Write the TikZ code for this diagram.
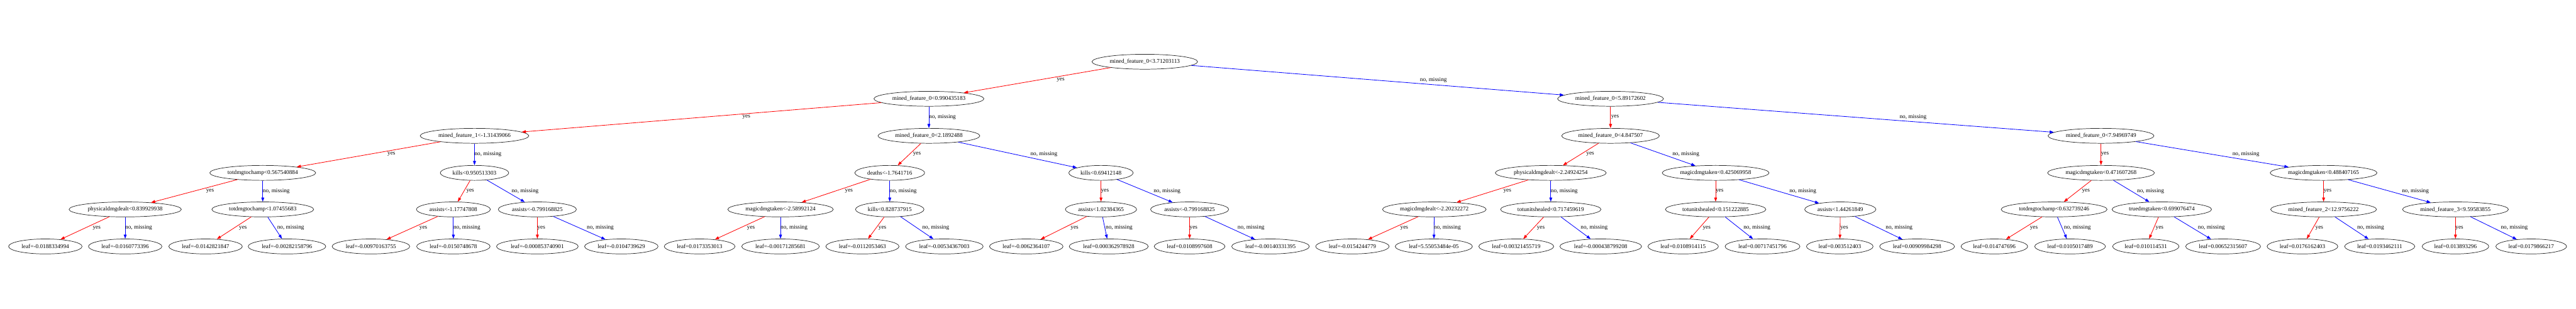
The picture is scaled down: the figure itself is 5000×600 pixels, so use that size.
\documentclass[tikz,border=0pt]{standalone}
\usepackage{fontspec}
\setmainfont{Liberation Serif}
\usetikzlibrary{shapes.geometric,arrows.meta}
\tikzset{
  tn/.style={ellipse, draw=black!85, line width=1.1pt, inner xsep=5.5pt, inner ysep=0pt, minimum height=36pt, font=\fontsize{14}{16}\selectfont},
  yesE/.style={draw=red, line width=1.25pt, -{Triangle[length=10pt,width=7pt,fill=red]}},
  noE/.style={draw=blue, line width=1.25pt, -{Triangle[length=10pt,width=7pt,fill=blue]}},
  lbl/.style={font=\fontsize{14}{16}\selectfont, inner sep=0pt, anchor=west},
}
\begin{document}
\begin{tikzpicture}[x=1.24pt,y=-1.24pt]
\useasboundingbox[fill=white] (0,0) rectangle (5000,600);
% level 0-2
\node[tn] (r) at (2222,120) {mined\_feature\_0<3.71203113};
\node[tn] (a) at (1803,192) {mined\_feature\_0<0.990435183};
\node[tn] (b) at (3126,192) {mined\_feature\_0<5.89172602};
\node[tn] (a1) at (921,264) {mined\_feature\_1<-1.31439066};
\node[tn] (a2) at (1803,264) {mined\_feature\_0<2.1892488};
\node[tn] (b1) at (3126,264) {mined\_feature\_0<4.847507};
\node[tn] (b2) at (4078,264) {mined\_feature\_0<7.94969749};
% level 3
\node[tn] (c1) at (510,336) {totdmgtochamp<0.567540884};
\node[tn] (c2) at (921,336) {kills<0.950513303};
\node[tn] (c3) at (1727,336) {deaths<-1.7641716};
\node[tn] (c4) at (2137,336) {kills<0.69412148};
\node[tn] (c5) at (3010,336) {physicaldmgdealt<-2.24924254};
\node[tn] (c6) at (3330,336) {magicdmgtaken<0.425069958};
\node[tn] (c7) at (4078,336) {magicdmgtaken<0.471607268};
\node[tn] (c8) at (4510,336) {magicdmgtaken<0.488407165};
% level 4
\node[tn] (d1) at (243,407) {physicaldmgdealt<0.839929938};
\node[tn] (d2) at (510,407) {totdmgtochamp<1.07455683};
\node[tn] (d3) at (880,407) {assists<-1.17747808};
\node[tn] (d4) at (1043,407) {assists<-0.799168825};
\node[tn] (d5) at (1515,407) {magicdmgtaken<-2.58992124};
\node[tn] (d6) at (1727,407) {kills<0.828737915};
\node[tn] (d7) at (2137,407) {assists<1.02384365};
\node[tn] (d8) at (2309,407) {assists<-0.799168825};
\node[tn] (d9) at (2784,407) {magicdmgdealt<-2.20232272};
\node[tn] (d10) at (3010,407) {totunitshealed<0.717459619};
\node[tn] (d11) at (3330,407) {totunitshealed<0.151222885};
\node[tn] (d12) at (3572,407) {assists<1.44261849};
\node[tn] (d13) at (3987,407) {totdmgtochamp<0.632739246};
\node[tn] (d14) at (4196,407) {truedmgtaken<0.699076474};
\node[tn] (d15) at (4510,407) {mined\_feature\_2<12.9756222};
\node[tn] (d16) at (4766,407) {mined\_feature\_3<9.59583855};
% leaves
\node[tn] (l1) at (88,479) {leaf=-0.0188334994};
\node[tn] (l2) at (243,479) {leaf=-0.0160773396};
\node[tn] (l3) at (399,479) {leaf=-0.0142821847};
\node[tn] (l4) at (557,479) {leaf=-0.00282158796};
\node[tn] (l5) at (720,479) {leaf=-0.00970163755};
\node[tn] (l6) at (880,479) {leaf=-0.0150748678};
\node[tn] (l7) at (1043,479) {leaf=-0.000853740901};
\node[tn] (l8) at (1206,479) {leaf=-0.0104739629};
\node[tn] (l9) at (1358,479) {leaf=0.0173353013};
\node[tn] (l10) at (1515,479) {leaf=-0.00171285681};
\node[tn] (l11) at (1674,479) {leaf=-0.0112053463};
\node[tn] (l12) at (1833,479) {leaf=-0.00534367003};
\node[tn] (l13) at (1992,479) {leaf=-0.0062364107};
\node[tn] (l14) at (2152,479) {leaf=0.000362978928};
\node[tn] (l15) at (2309,479) {leaf=0.0108997608};
\node[tn] (l16) at (2466,479) {leaf=-0.00140331395};
\node[tn] (l17) at (2625,479) {leaf=-0.0154244779};
\node[tn] (l18) at (2783,479) {leaf=5.55053484e-05};
\node[tn] (l19) at (2943,479) {leaf=0.00321455719};
\node[tn] (l20) at (3107,479) {leaf=-0.000438799208};
\node[tn] (l21) at (3267,479) {leaf=0.0108914115};
\node[tn] (l22) at (3421,479) {leaf=0.00717451796};
\node[tn] (l23) at (3571,479) {leaf=0.003512403};
\node[tn] (l24) at (3721,479) {leaf=0.00909984298};
\node[tn] (l25) at (3871,479) {leaf=0.014747696};
\node[tn] (l26) at (4018,479) {leaf=0.0105017489};
\node[tn] (l27) at (4165,479) {leaf=0.010114531};
\node[tn] (l28) at (4315,479) {leaf=0.00652315607};
\node[tn] (l29) at (4469,479) {leaf=0.0176162403};
\node[tn] (l30) at (4619,479) {leaf=0.0193462111};
\node[tn] (l31) at (4766,479) {leaf=0.013893296};
\node[tn] (l32) at (4913,479) {leaf=0.0179866217};
% edges upper
\draw[yesE] (r) -- (a);  \node[lbl] at (2051,156) {yes};
\draw[noE]  (r) -- (b);  \node[lbl] at (2756,156) {no, missing};
\draw[yesE] (a) -- (a1); \node[lbl] at (1441,228) {yes};
\draw[noE]  (a) -- (a2); \node[lbl] at (1803,228) {no, missing};
\draw[yesE] (b) -- (b1); \node[lbl] at (3127,228) {yes};
\draw[noE]  (b) -- (b2); \node[lbl] at (3687,228) {no, missing};
\draw[yesE] (a1) -- (c1); \node[lbl] at (752,300) {yes};
\draw[noE]  (a1) -- (c2); \node[lbl] at (921,300) {no, missing};
\draw[yesE] (a2) -- (c3); \node[lbl] at (1772,300) {yes};
\draw[noE]  (a2) -- (c4); \node[lbl] at (2000,300) {no, missing};
\draw[yesE] (b1) -- (c5); \node[lbl] at (3079,300) {yes};
\draw[noE]  (b1) -- (c6); \node[lbl] at (3246,300) {no, missing};
\draw[yesE] (b2) -- (c7); \node[lbl] at (4078,300) {yes};
\draw[noE]  (b2) -- (c8); \node[lbl] at (4333,300) {no, missing};
% level 3 -> 4
\draw[yesE] (c1) -- (d1); \node[lbl] at (400,372) {yes};
\draw[noE]  (c1) -- (d2); \node[lbl] at (510,372) {no, missing};
\draw[yesE] (c2) -- (d3); \node[lbl] at (905,372) {yes};
\draw[noE]  (c2) -- (d4); \node[lbl] at (993,372) {no, missing};
\draw[yesE] (c3) -- (d5); \node[lbl] at (1640,372) {yes};
\draw[noE]  (c3) -- (d6); \node[lbl] at (1727,372) {no, missing};
\draw[yesE] (c4) -- (d7); \node[lbl] at (2137,372) {yes};
\draw[noE]  (c4) -- (d8); \node[lbl] at (2239,372) {no, missing};
\draw[yesE] (c5) -- (d9); \node[lbl] at (2918,372) {yes};
\draw[noE]  (c5) -- (d10); \node[lbl] at (3010,372) {no, missing};
\draw[yesE] (c6) -- (d11); \node[lbl] at (3330,372) {yes};
\draw[noE]  (c6) -- (d12); \node[lbl] at (3473,372) {no, missing};
\draw[yesE] (c7) -- (d13); \node[lbl] at (4041,372) {yes};
\draw[noE]  (c7) -- (d14); \node[lbl] at (4148,372) {no, missing};
\draw[yesE] (c8) -- (d15); \node[lbl] at (4510,372) {yes};
\draw[noE]  (c8) -- (d16); \node[lbl] at (4662,372) {no, missing};
% level 4 -> leaves
\draw[yesE] (d1) -- (l1); \node[lbl] at (180,443) {yes};
\draw[noE]  (d1) -- (l2); \node[lbl] at (243,443) {no, missing};
\draw[yesE] (d2) -- (l3); \node[lbl] at (464,443) {yes};
\draw[noE]  (d2) -- (l4); \node[lbl] at (538,443) {no, missing};
\draw[yesE] (d3) -- (l5); \node[lbl] at (814,443) {yes};
\draw[noE]  (d3) -- (l6); \node[lbl] at (880,443) {no, missing};
\draw[yesE] (d4) -- (l7); \node[lbl] at (1043,443) {yes};
\draw[noE]  (d4) -- (l8); \node[lbl] at (1139,443) {no, missing};
\draw[yesE] (d5) -- (l9); \node[lbl] at (1450,443) {yes};
\draw[noE]  (d5) -- (l10); \node[lbl] at (1515,443) {no, missing};
\draw[yesE] (d6) -- (l11); \node[lbl] at (1705,443) {yes};
\draw[noE]  (d6) -- (l12); \node[lbl] at (1790,443) {no, missing};
\draw[yesE] (d7) -- (l13); \node[lbl] at (2078,443) {yes};
\draw[noE]  (d7) -- (l14); \node[lbl] at (2146,443) {no, missing};
\draw[yesE] (d8) -- (l15); \node[lbl] at (2309,443) {yes};
\draw[noE]  (d8) -- (l16); \node[lbl] at (2402,443) {no, missing};
\draw[yesE] (d9) -- (l17); \node[lbl] at (2718,443) {yes};
\draw[noE]  (d9) -- (l18); \node[lbl] at (2783,443) {no, missing};
\draw[yesE] (d10) -- (l19); \node[lbl] at (2983,443) {yes};
\draw[noE]  (d10) -- (l20); \node[lbl] at (3068,443) {no, missing};
\draw[yesE] (d11) -- (l21); \node[lbl] at (3305,443) {yes};
\draw[noE]  (d11) -- (l22); \node[lbl] at (3384,443) {no, missing};
\draw[yesE] (d12) -- (l23); \node[lbl] at (3572,443) {yes};
\draw[noE]  (d12) -- (l24); \node[lbl] at (3660,443) {no, missing};
\draw[yesE] (d13) -- (l25); \node[lbl] at (3940,443) {yes};
\draw[noE]  (d13) -- (l26); \node[lbl] at (4006,443) {no, missing};
\draw[yesE] (d14) -- (l27); \node[lbl] at (4184,443) {yes};
\draw[noE]  (d14) -- (l28); \node[lbl] at (4266,443) {no, missing};
\draw[yesE] (d15) -- (l29); \node[lbl] at (4494,443) {yes};
\draw[noE]  (d15) -- (l30); \node[lbl] at (4575,443) {no, missing};
\draw[yesE] (d16) -- (l31); \node[lbl] at (4766,443) {yes};
\draw[noE]  (d16) -- (l32); \node[lbl] at (4854,443) {no, missing};
\end{tikzpicture}
\end{document}
